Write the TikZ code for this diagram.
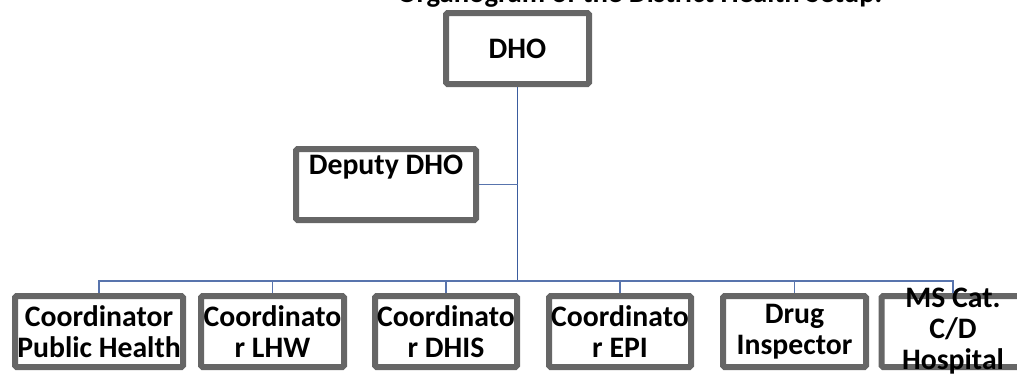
\documentclass[tikz,border=0pt]{standalone}
\usepackage{fontspec}
\setmainfont{Carlito}
\begin{document}
\begin{tikzpicture}[x=0.75pt,y=-0.75pt,
  post/.style={draw=boxgray, line width=4.5pt, rounded corners=1.2pt, fill=white,
    inner sep=0pt, align=center, font=\bfseries\fontsize{22.3}{23.25}\selectfont,
    minimum height=53.25pt},
  trunk/.style={draw=linkblue, line width=1.2pt},
  branch/.style={draw=linkblue!85!white, line width=0.8pt}]
\definecolor{boxgray}{HTML}{666666}
\definecolor{linkblue}{HTML}{3A5C9E}
\useasboundingbox (0,0) rectangle (1017,375);
\clip (0,0) rectangle (1017,375);

% heading, its upper part lies above the page
\node[anchor=base west, font=\bfseries\fontsize{21.5}{24}\selectfont, inner sep=0pt]
  (title) at (397,2) {Organogram of the District Health Setup.};

% head office and deputy
\node[post, minimum width=107.25pt] (dho) at (517.5,48.5) {DHO};
\node[post, minimum width=135pt] (deputy) at (386,184.5) {Deputy DHO\\\strut};

% sections
\node[post, minimum width=126pt]    (c1) at (99,331.5)   {Coordinator\\Public Health};
\node[post, minimum width=107.25pt] (c2) at (272.5,331.5) {Coordinato\\r LHW};
\node[post, minimum width=106.5pt]  (c3) at (446,331.5)   {Coordinato\\r DHIS};
\node[post, minimum width=106.5pt]  (c4) at (620,331.5)   {Coordinato\\r EPI};
\node[post, minimum width=107.25pt] (c5) at (794.5,331.5) {Drug\\Inspector};
\node[post, minimum width=107.25pt] (c6) at (953,331.5) {};
\node[align=center, font=\bfseries\fontsize{22.3}{23.25}\selectfont, inner sep=0pt]
  (c6text) at (c6.center) {MS Cat.\\C/D\\Hospital};

% connectors
\coordinate (bus) at (517.5,281);
\coordinate (deptap) at (517.5,184.5);
\draw[trunk] (dho.south) -- (bus);
\draw[branch] (deputy.east) -- (deptap);
\draw[branch] (c1.north) |- (bus);
\draw[branch] (c6.north) |- (bus);
\foreach \n in {c2,c3,c4,c5}
  \draw[branch] (\n.north) -- (\n.north |- bus);
\end{tikzpicture}
\end{document}
